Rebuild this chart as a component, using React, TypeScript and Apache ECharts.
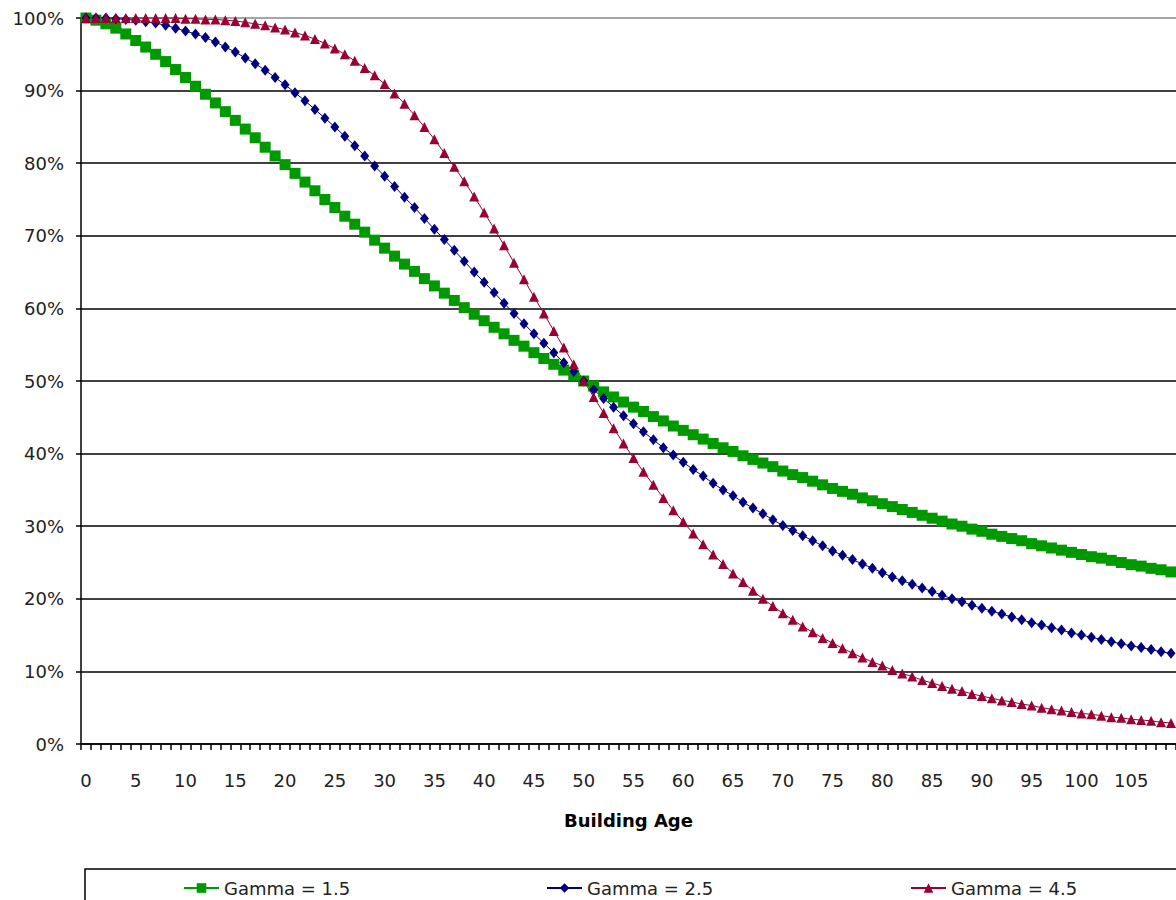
import React, { useEffect, useRef } from "react";
import * as echarts from "echarts";

const ages: string[] = Array.from({ length: 110 }, (_, i) => String(i));

const gamma15: number[] = [
  100, 99.7, 99.2, 98.6, 97.8, 96.9, 96.0, 95.0, 94.0, 92.9,
  91.8, 90.6, 89.5, 88.3, 87.1, 85.9, 84.7, 83.5, 82.2, 81.0,
  79.8, 78.6, 77.4, 76.2, 75.0, 73.9, 72.7, 71.6, 70.5, 69.4,
  68.3, 67.2, 66.1, 65.1, 64.1, 63.1, 62.1, 61.1, 60.1, 59.2,
  58.3, 57.4, 56.5, 55.6, 54.8, 53.9, 53.1, 52.3, 51.5, 50.8,
  50.0, 49.3, 48.5, 47.8, 47.1, 46.4, 45.8, 45.1, 44.5, 43.8,
  43.2, 42.6, 42.0, 41.4, 40.8, 40.3, 39.7, 39.2, 38.7, 38.2,
  37.6, 37.1, 36.7, 36.2, 35.7, 35.2, 34.8, 34.4, 33.9, 33.5,
  33.1, 32.7, 32.3, 31.9, 31.5, 31.1, 30.7, 30.3, 30.0, 29.6,
  29.3, 28.9, 28.6, 28.3, 28.0, 27.6, 27.3, 27.0, 26.7, 26.4,
  26.1, 25.8, 25.6, 25.3, 25.0, 24.7, 24.5, 24.2, 24.0, 23.7,
];

const gamma25: number[] = [
  100, 100, 100, 99.9, 99.8, 99.7, 99.5, 99.3, 99.0, 98.6,
  98.2, 97.8, 97.3, 96.7, 96.0, 95.3, 94.5, 93.7, 92.8, 91.8,
  90.8, 89.7, 88.6, 87.4, 86.2, 85.0, 83.7, 82.4, 81.0, 79.6,
  78.2, 76.8, 75.3, 73.9, 72.4, 70.9, 69.5, 68.0, 66.5, 65.0,
  63.6, 62.2, 60.7, 59.3, 57.9, 56.5, 55.2, 53.9, 52.5, 51.3,
  50.0, 48.8, 47.6, 46.4, 45.2, 44.1, 43.0, 41.9, 40.8, 39.8,
  38.8, 37.8, 36.9, 35.9, 35.0, 34.2, 33.3, 32.5, 31.7, 30.9,
  30.1, 29.4, 28.7, 28.0, 27.3, 26.6, 26.0, 25.4, 24.8, 24.2,
  23.6, 23.0, 22.5, 22.0, 21.5, 21.0, 20.5, 20.0, 19.6, 19.1,
  18.7, 18.3, 17.9, 17.5, 17.1, 16.7, 16.4, 16.0, 15.7, 15.3,
  15.0, 14.7, 14.4, 14.1, 13.8, 13.5, 13.3, 13.0, 12.7, 12.5,
];

const gamma45: number[] = [
  100, 100, 100, 100, 100, 100, 100, 100, 100, 100,
  99.9, 99.9, 99.8, 99.8, 99.7, 99.6, 99.4, 99.2, 99.0, 98.7,
  98.4, 98.0, 97.6, 97.1, 96.5, 95.8, 95.0, 94.1, 93.1, 92.1,
  90.9, 89.6, 88.2, 86.6, 85.0, 83.3, 81.4, 79.5, 77.5, 75.4,
  73.2, 71.0, 68.7, 66.3, 64.0, 61.6, 59.3, 56.9, 54.6, 52.3,
  50.0, 47.8, 45.6, 43.5, 41.4, 39.4, 37.5, 35.7, 33.9, 32.2,
  30.6, 29.0, 27.5, 26.1, 24.8, 23.5, 22.3, 21.1, 20.0, 19.0,
  18.0, 17.1, 16.2, 15.4, 14.6, 13.9, 13.2, 12.5, 11.9, 11.3,
  10.8, 10.2, 9.7, 9.3, 8.8, 8.4, 8.0, 7.6, 7.3, 6.9,
  6.6, 6.3, 6.0, 5.8, 5.5, 5.3, 5.0, 4.8, 4.6, 4.4,
  4.2, 4.1, 3.9, 3.7, 3.6, 3.4, 3.3, 3.2, 3.0, 2.9,
];

const seriesNames = ["Gamma = 1.5", "Gamma = 2.5", "Gamma = 4.5"];
const seriesColors = ["#009900", "#000080", "#990033"];
const seriesSymbols = ["rect", "diamond", "triangle"];
const seriesSymbolSizes: (number | number[])[] = [11, [9, 11], 10];
const xAxisTitle = "Building Age";

const FONT = "'DejaVu Sans', Arial, sans-serif";

export default function App() {
  const ref = useRef<HTMLDivElement>(null);
  useEffect(() => {
    document.body.style.margin = "0";
    if (!ref.current) return;
    const chart = echarts.init(ref.current, null, { renderer: "svg" });
    const data = [gamma15, gamma25, gamma45];
    const legendLefts = [183, 546, 910];
    chart.setOption({
      animation: false,
      backgroundColor: "#ffffff",
      textStyle: { fontFamily: FONT },
      grid: { left: 81, top: 18, width: 1100, height: 726, containLabel: false },
      xAxis: {
        type: "category",
        data: ages,
        boundaryGap: true,
        name: xAxisTitle,
        nameLocation: "middle",
        nameGap: 67,
        nameTextStyle: { fontFamily: FONT, fontSize: 18, fontWeight: "bold", color: "#000" },
        axisLine: { lineStyle: { color: "#000", width: 1.5 } },
        axisTick: { show: true, interval: 0, length: 6, inside: false, lineStyle: { color: "#000", width: 1.5 } },
        axisLabel: { interval: 4, margin: 27, fontFamily: FONT, fontSize: 18, color: "#222" },
        splitLine: { show: false },
      },
      yAxis: {
        type: "value",
        min: 0,
        max: 100,
        interval: 10,
        axisLine: { show: true, lineStyle: { color: "#000", width: 1.5 } },
        axisTick: { show: true, length: 5, lineStyle: { color: "#000", width: 1.5 } },
        axisLabel: { formatter: "{value}%", margin: 17, fontFamily: FONT, fontSize: 18, color: "#222" },
        splitLine: {
          show: true,
          lineStyle: {
            color: ["#000", "#000", "#000", "#000", "#000", "#000", "#000", "#000", "#000", "#000", "#888"],
            width: 1.6,
          },
        },
      },
      legend: seriesNames.map((n, i) => ({
        data: [n],
        left: legendLefts[i],
        top: 878,
        padding: 0,
        itemWidth: 35,
        itemHeight: 12,
        itemGap: 0,
        textStyle: { fontFamily: FONT, fontSize: 18, color: "#222", lineHeight: 20 },
      })),
      graphic: [
        {
          type: "rect",
          shape: { x: 85, y: 869, width: 1200, height: 100 },
          style: { fill: "none", stroke: "#000", lineWidth: 1.5 },
          silent: true,
        },
      ],
      series: seriesNames.map((n, i) => ({
        name: n,
        type: "line",
        data: data[i],
        symbol: seriesSymbols[i],
        symbolSize: seriesSymbolSizes[i],
        showAllSymbol: true,
        lineStyle: { color: seriesColors[i], width: 1 },
        itemStyle: { color: seriesColors[i] },
        clip: false,
      })),
    });
    return () => chart.dispose();
  }, []);
  return <div ref={ref} style={{ width: 1176, height: 900 }} />;
}
